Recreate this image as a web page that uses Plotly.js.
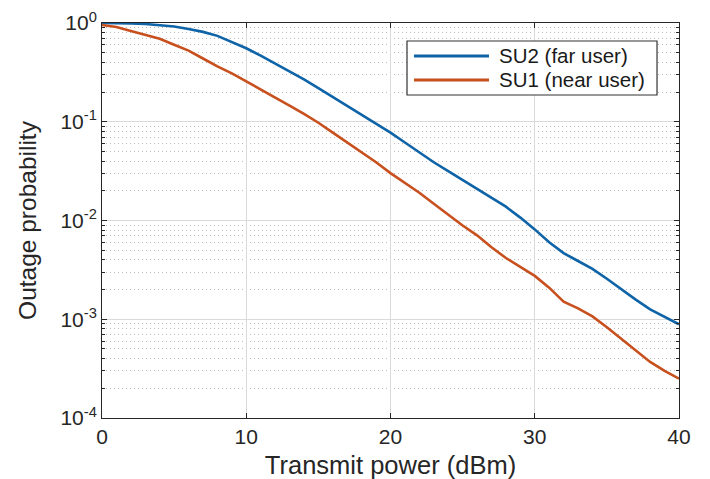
<!DOCTYPE html>
<html>
<head>
<meta charset="utf-8">
<script src="https://cdn.plot.ly/plotly-3.0.1.min.js"></script>
<style>html,body{margin:0;padding:0;background:#fff;}#chart{width:710px;height:479px;}</style>
</head>
<body>
<div id="chart"></div>
<script>
// Transmit power (dBm)
const power = [0,1,2,3,4,5,6,7,8,9,10,11,12,13,14,15,16,17,18,19,20,21,22,23,24,25,26,27,28,29,30,31,32,33,34,35,36,37,38,39,40];
// SU2 (far user) outage probability
const su2 = [1.0,1.0,0.989,0.977,0.955,0.923,0.871,0.813,0.741,0.646,0.555,0.468,0.389,0.324,0.269,0.219,0.178,0.145,0.117,0.0955,0.0776,0.0617,0.0490,0.0389,0.0316,0.0257,0.0209,0.0170,0.0138,0.0107,0.00813,0.00603,0.00468,0.00389,0.00324,0.00257,0.00200,0.00158,0.00126,0.00105,0.00089];
// SU1 (near user) outage probability
const su1 = [0.955,0.912,0.832,0.759,0.692,0.603,0.525,0.437,0.363,0.309,0.257,0.214,0.178,0.146,0.120,0.0977,0.0776,0.0617,0.0490,0.0389,0.0302,0.0240,0.0191,0.0148,0.0115,0.00891,0.00708,0.00537,0.00417,0.00339,0.00275,0.00209,0.00151,0.00129,0.00107,0.00083,0.00063,0.00048,0.00037,0.00030,0.00025];
const seriesNames = ['SU2 (far user)', 'SU1 (near user)'];
const seriesColors = ['#0F64A8', '#C8501E'];
const xTicks = [0,10,20,30,40];
const yTickVals = [1e-4,1e-3,1e-2,1e-1,1];
const yTickText = ['10<sup>-4</sup>','10<sup>-3</sup>','10<sup>-2</sup>','10<sup>-1</sup>','10<sup>0</sup>'];

const font = 'Liberation Sans, Arial, sans-serif';
const traces = [
  {x: power, y: su2, name: seriesNames[0], type: 'scatter', mode: 'lines', line: {color: seriesColors[0], width: 2.6}},
  {x: power, y: su1, name: seriesNames[1], type: 'scatter', mode: 'lines', line: {color: seriesColors[1], width: 2.6}}
];

// Legend box (paper coordinates), MATLAB style with long line samples
const lg = {x0: 0.5286, x1: 0.9619, y0: 0.8177, y1: 0.9544, lx0: 0.5407, lx1: 0.6707, tx: 0.6846, rows: [0.9165, 0.8557]};
const shapes = [
  {type: 'rect', xref: 'paper', yref: 'paper', x0: lg.x0, x1: lg.x1, y0: lg.y0, y1: lg.y1,
   fillcolor: '#fff', line: {color: '#333', width: 1.2}, layer: 'above'}
];
const annotations = [];
seriesNames.forEach((name, i) => {
  shapes.push({type: 'line', xref: 'paper', yref: 'paper', x0: lg.lx0, x1: lg.lx1, y0: lg.rows[i], y1: lg.rows[i],
               line: {color: seriesColors[i], width: 3}, layer: 'above'});
  annotations.push({xref: 'paper', yref: 'paper', x: lg.tx, y: lg.rows[i], xanchor: 'left', yanchor: 'middle',
                    text: name, showarrow: false, font: {family: font, size: 20.5, color: '#1a1a1a'}});
});

const layout = {
  width: 710, height: 479,
  margin: {l: 102, r: 31, t: 23, b: 61},
  paper_bgcolor: '#fff', plot_bgcolor: '#fff',
  font: {family: font, color: '#262626', size: 21},
  showlegend: false,
  shapes: shapes,
  annotations: annotations,
  xaxis: {
    range: [0, 40], tickvals: xTicks, ticktext: xTicks.map(String),
    showline: true, linecolor: '#262626', linewidth: 1, mirror: 'ticks',
    ticks: 'inside', ticklen: 5, tickcolor: '#262626',
    showgrid: true, gridcolor: '#dadada', gridwidth: 1, zeroline: false,
    tickfont: {size: 21, family: font, color: '#262626'},
    title: {text: 'Transmit power (dBm)', font: {size: 25.5, family: font, color: '#262626'}, standoff: 10}
  },
  yaxis: {
    type: 'log', range: [-4, 0], tickvals: yTickVals, ticktext: yTickText,
    showline: true, linecolor: '#262626', linewidth: 1, mirror: 'ticks',
    ticks: 'inside', ticklen: 5, tickcolor: '#262626',
    showgrid: true, gridcolor: '#dadada', gridwidth: 1, zeroline: false,
    tickfont: {size: 21, family: font, color: '#262626'},
    minor: {dtick: 'D1', showgrid: true, gridcolor: '#bdbdbd', griddash: '1px,3px', gridwidth: 1, ticks: 'inside', ticklen: 3, tickcolor: '#262626'},
    title: {text: 'Outage probability', font: {size: 24.5, family: font, color: '#262626'}, standoff: 16}
  }
};
Plotly.newPlot('chart', traces, layout, {displayModeBar: false, staticPlot: true});
</script>
</body>
</html>
